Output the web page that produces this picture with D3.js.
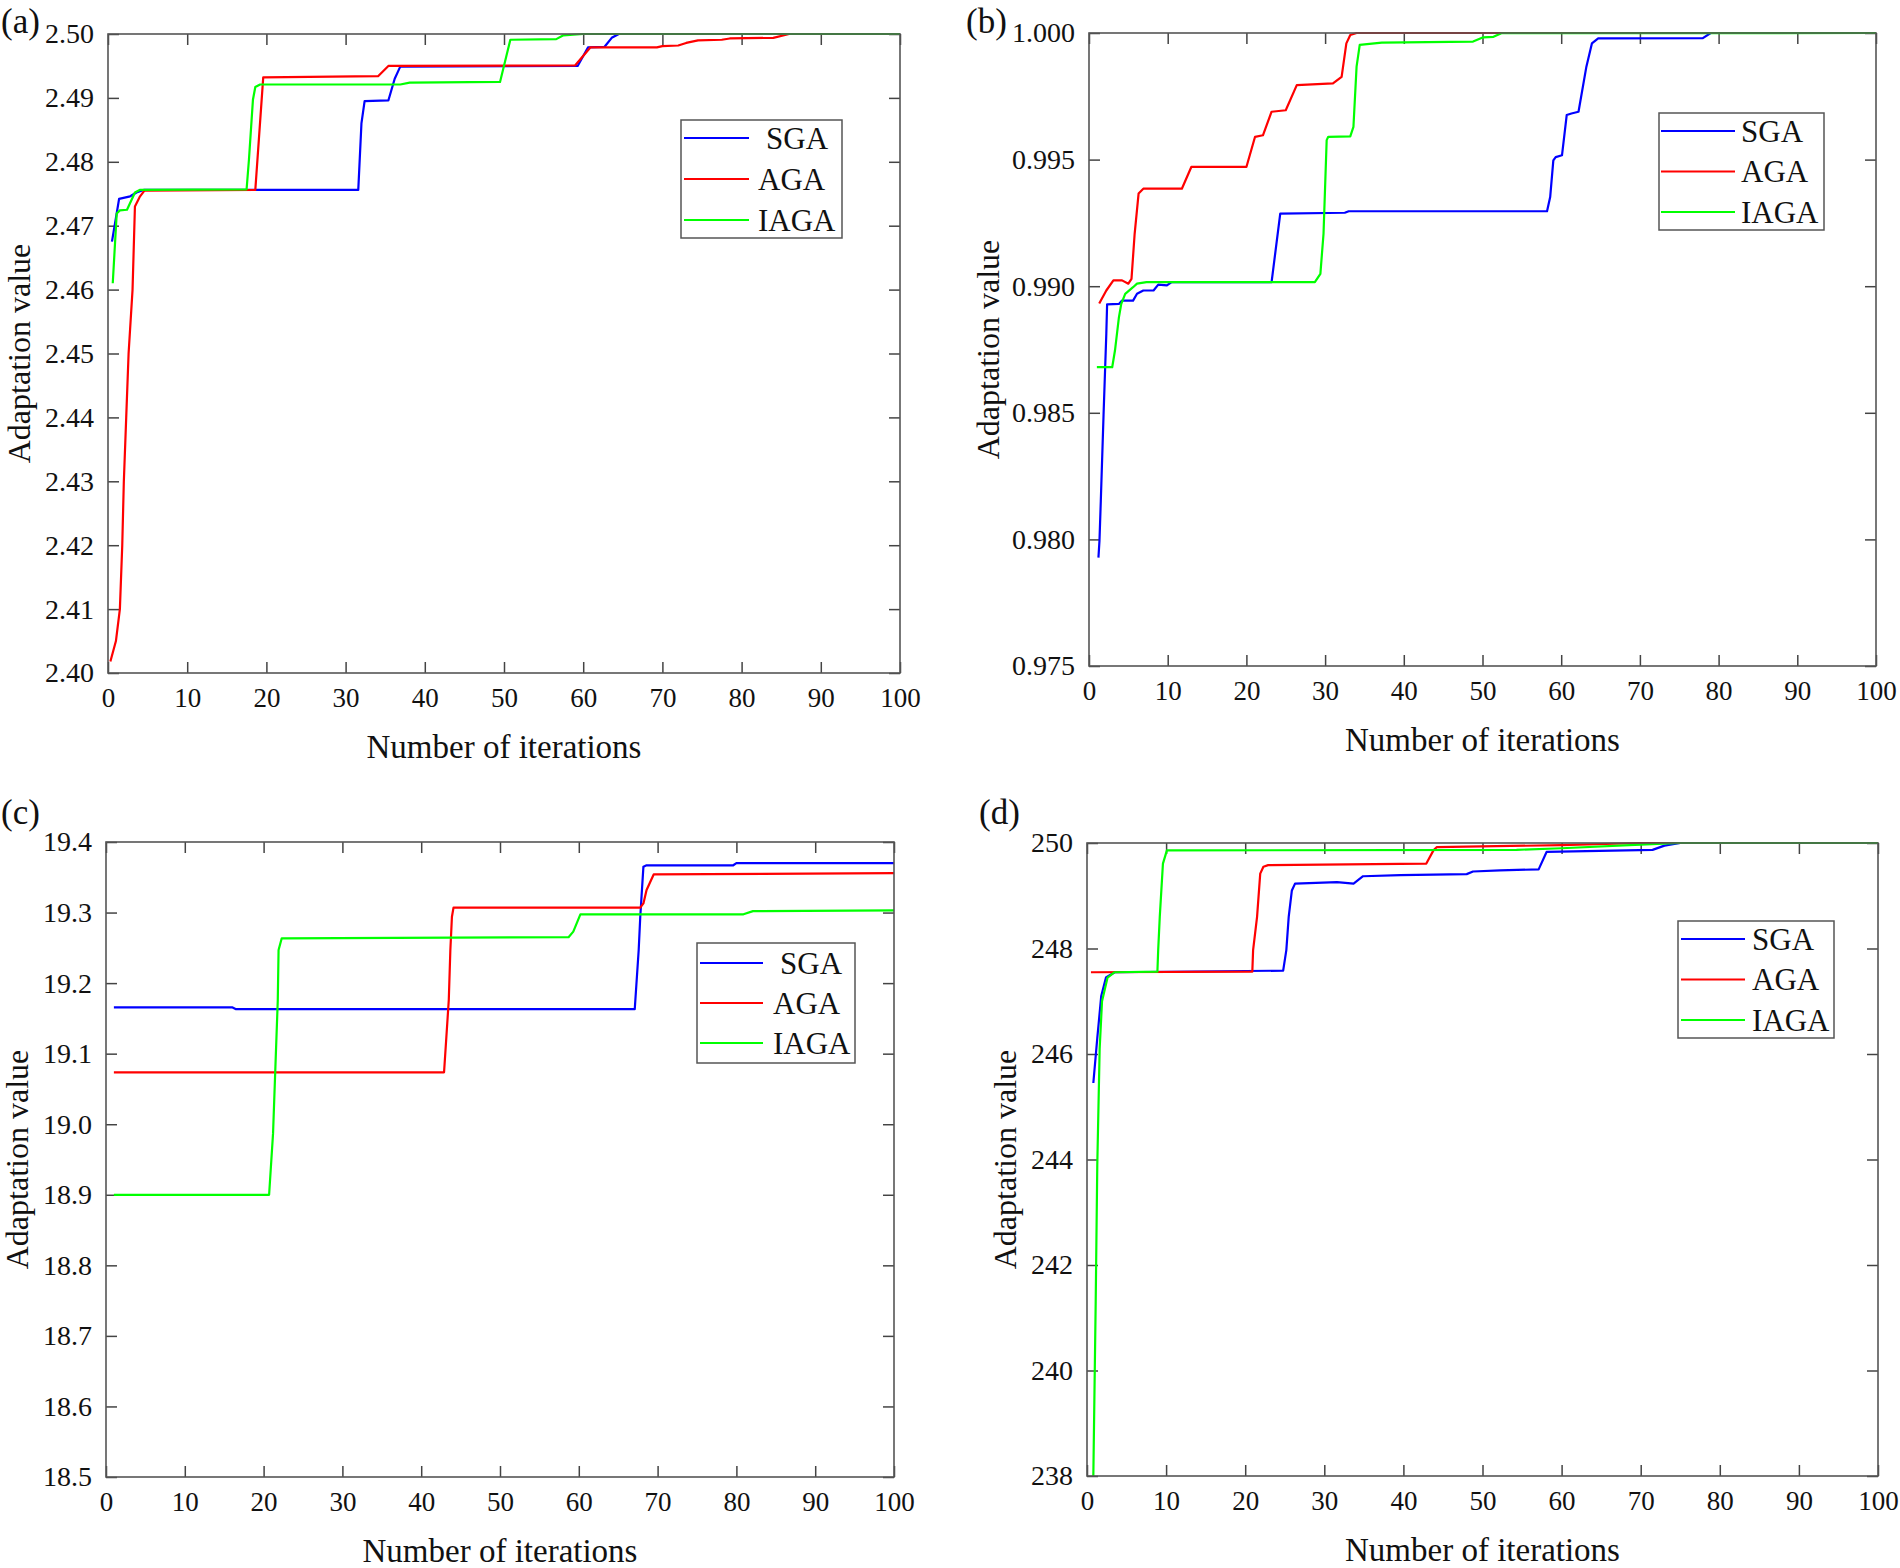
<!DOCTYPE html>
<html>
<head>
<meta charset="utf-8">
<script src="https://cdn.jsdelivr.net/npm/d3@7/dist/d3.min.js"></script>
<style>
  body { margin: 0; background: #fff; }
  text { font-family: "Liberation Serif", "Times New Roman", serif; fill: #111; }
</style>
</head>
<body>
<script>
// dati: [iterazione, valore]
var seriesNames = ["SGA", "AGA", "IAGA"];
var seriesColors = ["#0000ff", "#ff0000", "#00ff00"];
var iterTicks = [0, 10, 20, 30, 40, 50, 60, 70, 80, 90, 100];

// (a)
var ticksA = [2.40, 2.41, 2.42, 2.43, 2.44, 2.45, 2.46, 2.47, 2.48, 2.49, 2.50];
var sgaA = [[0.5,2.4675],[1.0,2.4712],[1.4,2.4742],[2.8,2.4746],[3.6,2.4752],[4.5,2.4756],[31.6,2.4756],[32.0,2.4860],[32.4,2.4895],[35.4,2.4896],[36.2,2.4930],[36.9,2.4949],[59.3,2.4950],[60.6,2.4979],[62.7,2.4980],[63.6,2.4994],[64.5,2.5000],[100,2.5000]];
var agaA = [[0.3,2.4018],[1.0,2.4050],[1.5,2.4100],[1.8,2.4200],[2.0,2.4300],[2.3,2.4400],[2.6,2.4500],[3.1,2.4600],[3.4,2.4730],[4.0,2.4745],[4.6,2.4755],[18.6,2.4756],[19.6,2.4932],[34.1,2.4934],[35.4,2.4950],[59.0,2.4951],[60.9,2.4979],[69.3,2.4979],[70.0,2.4981],[72.0,2.4982],[73.0,2.4986],[74.5,2.4990],[77.5,2.4991],[78.5,2.4993],[84.0,2.4994],[86.0,2.5000],[100,2.5000]];
var iagaA = [[0.6,2.4610],[1.1,2.4719],[1.5,2.4724],[2.4,2.4725],[3.4,2.4752],[4.0,2.4756],[17.5,2.4757],[17.8,2.4804],[18.3,2.4897],[18.6,2.4917],[19.2,2.4921],[36.9,2.4921],[38.1,2.4924],[49.5,2.4925],[50.8,2.4991],[56.6,2.4992],[57.5,2.4998],[60.0,2.5000],[100,2.5000]];

// (b)
var ticksB = [0.975, 0.980, 0.985, 0.990, 0.995, 1.000];
var sgaB = [[1.2,0.97928],[1.33,0.97994],[1.5,0.98152],[1.85,0.98492],[2.2,0.98812],[2.3,0.98928],[3.8,0.98930],[4.2,0.98943],[5.6,0.98943],[6.1,0.98970],[6.9,0.98983],[8.2,0.98983],[8.8,0.99006],[9.9,0.99003],[10.5,0.99016],[23.2,0.99016],[24.3,0.99287],[32.5,0.99290],[33.0,0.99296],[58.2,0.99296],[58.6,0.99352],[59.0,0.99497],[59.3,0.99510],[60.1,0.99517],[60.7,0.99676],[61.3,0.99682],[62.2,0.99689],[63.2,0.99867],[63.9,0.99959],[64.7,0.99979],[78.0,0.99980],[79.0,1.0000],[100,1.0000]];
var agaB = [[1.3,0.98932],[2.2,0.98983],[3.1,0.99023],[4.2,0.99023],[5.0,0.99010],[5.4,0.99029],[5.8,0.99207],[6.3,0.99366],[6.9,0.99385],[11.8,0.99385],[13.0,0.99471],[20.0,0.99471],[21.1,0.99590],[22.1,0.99596],[23.2,0.99689],[25.0,0.99695],[26.4,0.99794],[31.0,0.99801],[32.1,0.99827],[32.7,0.99959],[33.2,0.99992],[34.0,1.0000],[100,1.0000]];
var iagaB = [[1.0,0.98680],[2.95,0.98680],[3.3,0.98746],[3.8,0.98877],[4.1,0.98930],[4.6,0.98970],[5.6,0.98996],[6.1,0.99010],[7.3,0.99016],[28.7,0.99016],[29.4,0.99049],[29.8,0.99207],[30.2,0.99577],[30.4,0.99590],[33.2,0.99592],[33.6,0.99629],[34.0,0.99867],[34.4,0.99953],[37.2,0.99962],[48.8,0.99966],[50.1,0.99983],[51.4,0.99985],[52.4,0.99999],[100,1.0000]];

// (c)
var ticksC = [18.5, 18.6, 18.7, 18.8, 18.9, 19.0, 19.1, 19.2, 19.3, 19.4];
var sgaC = [[1,19.1657],[16.0,19.1657],[16.5,19.1630],[67.1,19.1630],[67.6,19.247],[67.8,19.294],[68.2,19.365],[68.6,19.367],[79.6,19.367],[80.0,19.370],[100,19.370]];
var agaC = [[1,19.0736],[42.9,19.0736],[43.5,19.176],[43.7,19.247],[43.9,19.294],[44.1,19.307],[67.8,19.307],[68.2,19.313],[68.6,19.332],[69.5,19.354],[100,19.356]];
var iagaC = [[1,18.900],[20.7,18.900],[21.2,18.987],[21.5,19.082],[21.8,19.176],[21.9,19.247],[22.3,19.2635],[58.7,19.265],[59.3,19.273],[60.2,19.2975],[80.9,19.2975],[82.1,19.302],[100,19.303]];

// (d)
var ticksD = [238, 240, 242, 244, 246, 248, 250];
var sgaD = [[0.8,245.45],[1.3,246.3],[1.8,247.1],[2.4,247.45],[3.5,247.55],[24.8,247.58],[25.2,247.97],[25.5,248.6],[25.9,249.10],[26.3,249.23],[31.6,249.26],[33.7,249.23],[34.9,249.37],[39.6,249.39],[48.0,249.41],[48.8,249.46],[52.2,249.48],[57.1,249.50],[58.1,249.83],[71.5,249.87],[73.0,249.95],[75.0,250.0],[100,250.0]];
var agaD = [[0.5,247.55],[20.9,247.56],[21.0,247.97],[21.5,248.6],[21.9,249.42],[22.3,249.55],[22.9,249.58],[42.9,249.61],[43.8,249.86],[44.2,249.92],[60.0,249.96],[70.0,250.0],[100,250.0]];
var iagaD = [[0.8,238.0],[1.1,241.3],[1.3,243.9],[1.6,246.1],[1.9,247.0],[2.6,247.45],[3.5,247.55],[8.9,247.56],[9.0,247.97],[9.2,248.6],[9.6,249.61],[10.1,249.86],[54.3,249.87],[60.0,249.9],[70.0,249.97],[75.0,250.0],[100,250.0]];

// layout dei quattro pannelli
var panels = [
  { name: "(a)", left: 108, right: 900, top: 34, bottom: 673, yTicks: ticksA, fmt: ".2f",
    series: [sgaA, agaA, iagaA], labelX: 1, labelY: 33, yTitleX: 30,
    legend: { x: 681, y: 120, w: 161, h: 118, gap: 41, lx1: 684, lx2: 749, tx: 758, sgaShift: 8 } },
  { name: "(b)", left: 1089, right: 1876, top: 33, bottom: 666, yTicks: ticksB, fmt: ".3f",
    series: [sgaB, agaB, iagaB], labelX: 966, labelY: 33, yTitleX: 999,
    legend: { x: 1659, y: 113, w: 165, h: 117, gap: 40.5, lx1: 1661, lx2: 1735, tx: 1741, sgaShift: 0 } },
  { name: "(c)", left: 106, right: 894, top: 842, bottom: 1477, yTicks: ticksC, fmt: ".1f",
    series: [sgaC, agaC, iagaC], labelX: 1, labelY: 824, yTitleX: 28,
    legend: { x: 697, y: 943, w: 158, h: 120, gap: 40, lx1: 700, lx2: 763, tx: 773, sgaShift: 7 } },
  { name: "(d)", left: 1087, right: 1878, top: 843, bottom: 1476, yTicks: ticksD, fmt: "d",
    series: [sgaD, agaD, iagaD], labelX: 979, labelY: 824, yTitleX: 1016,
    legend: { x: 1678, y: 921, w: 156, h: 117, gap: 40.5, lx1: 1681, lx2: 1745, tx: 1752, sgaShift: 0 } }
];

var svg = d3.select("body")
            .append("svg")
            .attr("width", 1900)
            .attr("height", 1568);

var tickLen = 11;

panels.forEach(function(p, pi) {
    var yDom = d3.extent(p.yTicks);
    var x = d3.scaleLinear().domain([0, 100]).range([p.left, p.right]);
    var y = d3.scaleLinear().domain(yDom).range([p.bottom, p.top]);
    var g = svg.append("g");

    // clip per le curve
    var clipId = "clip" + pi;
    svg.append("clipPath").attr("id", clipId)
       .append("rect")
       .attr("x", p.left).attr("y", p.top - 2)
       .attr("width", p.right - p.left).attr("height", p.bottom - p.top + 2);

    // assi con tacche verso l'interno su tutti e quattro i lati
    var axB = g.append("g").attr("transform", "translate(0," + p.bottom + ")")
        .call(d3.axisBottom(x).tickValues(iterTicks).tickSizeInner(-tickLen).tickSizeOuter(0).tickPadding(15));
    var axT = g.append("g").attr("transform", "translate(0," + p.top + ")")
        .call(d3.axisTop(x).tickValues(iterTicks).tickSizeInner(-tickLen).tickSizeOuter(0).tickFormat(""));
    var axL = g.append("g").attr("transform", "translate(" + p.left + ",0)")
        .call(d3.axisLeft(y).tickValues(p.yTicks).tickSizeInner(-tickLen).tickSizeOuter(0).tickPadding(14).tickFormat(d3.format(p.fmt)));
    var axR = g.append("g").attr("transform", "translate(" + p.right + ",0)")
        .call(d3.axisRight(y).tickValues(p.yTicks).tickSizeInner(-tickLen).tickSizeOuter(0).tickFormat(""));

    [axB, axT, axL, axR].forEach(function(a) {
        a.select(".domain").remove();
        a.selectAll(".tick line").attr("stroke", "#444").attr("stroke-width", 1.5);
        a.selectAll("text").attr("font-family", "Liberation Serif").attr("fill", "#111");
    });
    axB.selectAll("text").attr("font-size", 27);
    axL.selectAll("text").attr("font-size", 28);

    // curve
    var line = d3.line().x(function(d) { return x(d[0]); }).y(function(d) { return y(d[1]); });
    p.series.forEach(function(s, i) {
        g.append("path")
         .datum(s)
         .attr("clip-path", "url(#" + clipId + ")")
         .attr("fill", "none")
         .attr("stroke", seriesColors[i])
         .attr("stroke-width", 2.2)
         .attr("stroke-linejoin", "round")
         .attr("d", line);
    });

    // cornice
    g.append("rect")
     .attr("x", p.left).attr("y", p.top)
     .attr("width", p.right - p.left).attr("height", p.bottom - p.top)
     .attr("fill", "none").attr("stroke", "#555").attr("stroke-width", 1.6);

    // titoli degli assi
    g.append("text")
     .attr("x", (p.left + p.right) / 2)
     .attr("y", p.bottom + 85)
     .attr("text-anchor", "middle")
     .attr("font-size", 33)
     .text("Number of iterations");

    g.append("text")
     .attr("transform", "translate(" + p.yTitleX + "," + ((p.top + p.bottom) / 2) + ") rotate(-90)")
     .attr("text-anchor", "middle")
     .attr("font-size", 32)
     .text("Adaptation value");

    // etichetta del pannello
    g.append("text")
     .attr("x", p.labelX).attr("y", p.labelY)
     .attr("font-size", 35)
     .text(p.name);

    // legenda
    var L = p.legend;
    var lg = g.append("g");
    lg.append("rect")
      .attr("x", L.x).attr("y", L.y).attr("width", L.w).attr("height", L.h)
      .attr("fill", "#fff").attr("stroke", "#555").attr("stroke-width", 1.5);
    seriesNames.forEach(function(n, i) {
        var ry = L.y + L.h / 2 + (i - 1) * L.gap;
        lg.append("line")
          .attr("x1", L.lx1).attr("x2", L.lx2).attr("y1", ry).attr("y2", ry)
          .attr("stroke", seriesColors[i]).attr("stroke-width", 2.2);
        lg.append("text")
          .attr("x", L.tx + (i === 0 ? L.sgaShift : 0)).attr("y", ry)
          .attr("dy", "0.35em")
          .attr("font-size", 31)
          .text(n);
    });
});
</script>
</body>
</html>
